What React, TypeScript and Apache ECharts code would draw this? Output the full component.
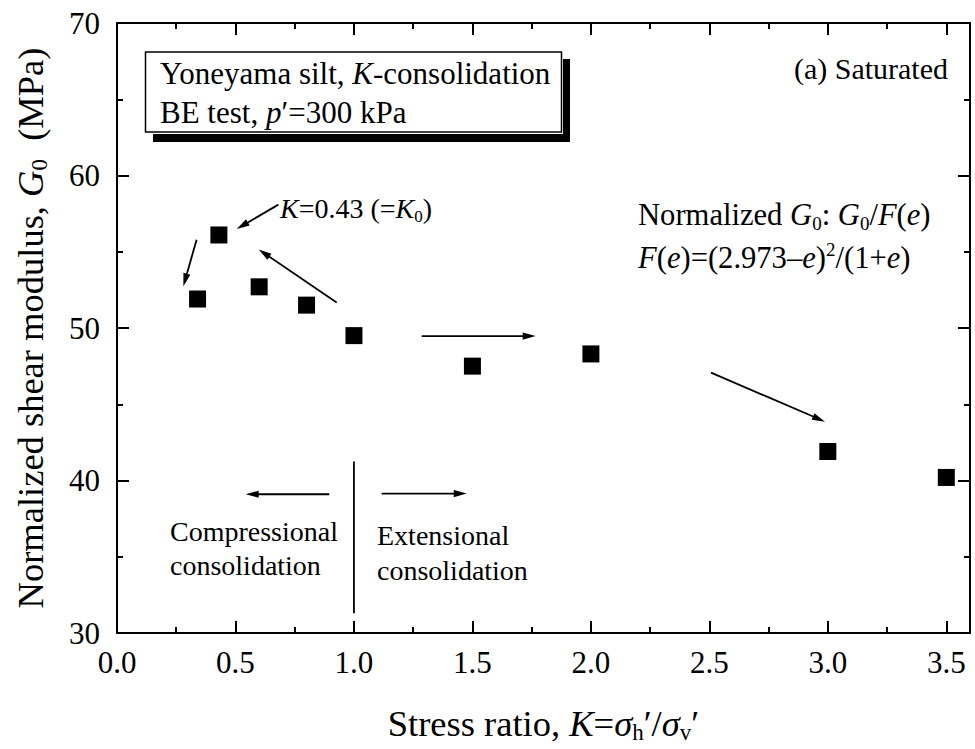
import React, { useEffect, useRef } from "react";
import * as echarts from "echarts";

const FONT = "Liberation Serif, Times New Roman, serif";

// Stress ratio K and normalized G0 (MPa)
const stressRatio = [0.34, 0.43, 0.6, 0.8, 1.0, 1.5, 2.0, 3.0, 3.5];
const normalizedG0 = [51.9, 56.1, 52.7, 51.5, 49.5, 47.5, 48.3, 41.9, 40.2];

// Axis ranges and tick positions
const X_MIN = 0;
const X_MAX = 3.6;
const xMajorTicks = [0, 0.5, 1.0, 1.5, 2.0, 2.5, 3.0, 3.5];
const xMinorTicks = [0.25, 0.75, 1.25, 1.75, 2.25, 2.75, 3.25];
const Y_MIN = 30;
const Y_MAX = 70;
const Y_STEP = 10;

// Annotation segments in data units: [x1, y1, x2, y2, arrowhead (1) or plain (0)]
const annotationSegments = [
  [0.681, 58.09, 0.505, 56.49, 1],
  [0.336, 55.79, 0.28, 52.74, 1],
  [0.927, 51.67, 0.598, 55.15, 1],
  [1.286, 49.47, 1.767, 49.47, 1],
  [2.507, 47.07, 2.988, 43.86, 1],
  [0.896, 39.1, 0.543, 39.1, 1],
  [1.117, 39.14, 1.476, 39.14, 1],
  [1.0, 41.24, 1.0, 31.29, 0],
];

const points = stressRatio.map((k, i) => [k, normalizedG0[i]]);

const richBase = (size: number, lh: number) => ({
  n: { fontSize: size, fontFamily: FONT, lineHeight: lh, color: "#000" },
  i: { fontStyle: "italic", fontSize: size, fontFamily: FONT, lineHeight: lh, color: "#000" },
  sub: {
    fontSize: Math.round(size * 0.62),
    fontFamily: FONT,
    lineHeight: Math.round(size * 0.62),
    padding: [Math.round(size * 0.52), 0, 0, 0],
    color: "#000",
  },
  sup: {
    fontSize: Math.round(size * 0.62),
    fontFamily: FONT,
    lineHeight: Math.round(size * 0.62),
    padding: [0, 0, Math.round(size * 0.56), 0],
    color: "#000",
  },
});

function label(x: number, y: number, text: string, size: number, align = "left") {
  const lh = Math.round(size * 1.25);
  return {
    type: "text",
    x,
    y,
    z: 10,
    style: {
      text,
      fontSize: size,
      fontFamily: FONT,
      fill: "#000",
      align,
      verticalAlign: "middle",
      lineHeight: lh,
      rich: richBase(size, lh),
    },
  };
}

export default function App() {
  const ref = useRef<HTMLDivElement>(null);

  useEffect(() => {
    document.body.style.margin = "0";
    if (!ref.current) return;
    const chart = echarts.init(ref.current, null, { renderer: "svg" });

    const axisLine = { show: true, onZero: false, lineStyle: { color: "#000", width: 2 } };
    const tickStyle = { color: "#000", width: 2 };

    const xBase = {
      type: "value",
      min: X_MIN,
      max: X_MAX,
      splitLine: { show: false },
      axisLine,
    };
    const yBase = {
      type: "value",
      min: Y_MIN,
      max: Y_MAX,
      interval: Y_STEP,
      splitLine: { show: false },
      axisLine,
      axisTick: { inside: true, length: 12, lineStyle: tickStyle },
      minorTick: { show: true, splitNumber: 2, length: 6, lineStyle: tickStyle },
    };

    chart.setOption({
      animation: false,
      backgroundColor: "#fff",
      textStyle: { fontFamily: FONT },
      grid: { left: 117, right: 5, top: 23, bottom: 115, containLabel: false },
      xAxis: [
        {
          ...xBase,
          position: "bottom",
          axisTick: { inside: true, length: 12, lineStyle: tickStyle, customValues: xMajorTicks },
          axisLabel: {
            customValues: xMajorTicks,
            formatter: (v: number) => v.toFixed(1),
            fontFamily: FONT,
            fontSize: 31,
            color: "#000",
            margin: 14,
          },
          name: "{n|Stress ratio, }{i|K}{n|=}{i|σ}{sub|h}{n|′/}{i|σ}{sub|v}{n|′}",
          nameLocation: "middle",
          nameGap: 69,
          nameTextStyle: {
            fontFamily: FONT,
            fontSize: 36.5,
            color: "#000",
            lineHeight: 42,
            rich: richBase(36.5, 42),
          },
        },
        {
          ...xBase,
          position: "bottom",
          axisLine: { show: false },
          axisTick: { inside: true, length: 6, lineStyle: tickStyle, customValues: xMinorTicks },
          axisLabel: { show: false },
        },
        {
          ...xBase,
          position: "top",
          axisTick: { inside: true, length: 12, lineStyle: tickStyle, customValues: xMajorTicks },
          axisLabel: { show: false },
        },
        {
          ...xBase,
          position: "top",
          axisLine: { show: false },
          axisTick: { inside: true, length: 6, lineStyle: tickStyle, customValues: xMinorTicks },
          axisLabel: { show: false },
        },
      ],
      yAxis: [
        {
          ...yBase,
          position: "left",
          axisLabel: { fontFamily: FONT, fontSize: 31, color: "#000", margin: 17 },
          name: "{n|Normalized shear modulus, }{i|G}{sub|0}{n|  (MPa)}",
          nameLocation: "middle",
          nameGap: 66,
          nameRotate: 90,
          nameTextStyle: {
            fontFamily: FONT,
            fontSize: 36.5,
            color: "#000",
            lineHeight: 42,
            rich: richBase(36.5, 42),
          },
        },
        {
          ...yBase,
          position: "right",
          axisLabel: { show: false },
        },
      ],
      series: [
        {
          type: "scatter",
          xAxisIndex: 0,
          yAxisIndex: 0,
          symbol: "rect",
          symbolSize: 17,
          itemStyle: { color: "#000", opacity: 1 },
          data: points,
          z: 5,
        },
        {
          type: "custom",
          xAxisIndex: 0,
          yAxisIndex: 0,
          clip: false,
          encode: { x: [0, 2], y: [1, 3] },
          data: annotationSegments,
          renderItem: (_params: any, api: any) => {
            const a = api.coord([api.value(0), api.value(1)]);
            const b = api.coord([api.value(2), api.value(3)]);
            const head = api.value(4) > 0;
            const dx = b[0] - a[0];
            const dy = b[1] - a[1];
            const len = Math.hypot(dx, dy) || 1;
            const ux = dx / len;
            const uy = dy / len;
            const nx = -uy;
            const ny = ux;
            const HL = 13;
            const HW = 3.6;
            const end = head ? [b[0] - ux * HL * 0.7, b[1] - uy * HL * 0.7] : b;
            const children: any[] = [
              {
                type: "line",
                shape: { x1: a[0], y1: a[1], x2: end[0], y2: end[1] },
                style: { stroke: "#000", lineWidth: 1.8 },
              },
            ];
            if (head) {
              children.push({
                type: "polygon",
                shape: {
                  points: [
                    [b[0], b[1]],
                    [b[0] - ux * HL + nx * HW, b[1] - uy * HL + ny * HW],
                    [b[0] - ux * HL - nx * HW, b[1] - uy * HL - ny * HW],
                  ],
                },
                style: { fill: "#000" },
              });
            }
            return { type: "group", children };
          },
          z: 4,
        },
      ],
      graphic: [
        // title box with drop shadow
        { type: "rect", z: 8, shape: { x: 153, y: 59, width: 417, height: 83 }, style: { fill: "#000" } },
        { type: "rect", z: 8, shape: { x: 143, y: 50, width: 420, height: 84 }, style: { fill: "#fff" } },
        {
          type: "rect",
          z: 9,
          shape: { x: 145.5, y: 52, width: 416, height: 80 },
          style: { fill: "#fff", stroke: "#000", lineWidth: 1.5 },
        },
        label(160, 73, "{n|Yoneyama silt, }{i|K}{n|-consolidation}", 31),
        label(160, 112, "{n|BE test, }{i|p}{n|′=300 kPa}", 31),
        label(948, 68, "{n|(a) Saturated}", 30, "right"),
        label(280, 208.5, "{i|K}{n|=0.43 (=}{i|K}{sub|0}{n|)}", 28),
        label(638, 215, "{n|Normalized }{i|G}{sub|0}{n|: }{i|G}{sub|0}{n|/}{i|F}{n|(}{i|e}{n|)}", 30.6),
        label(638, 258, "{i|F}{n|(}{i|e}{n|)=(2.973–}{i|e}{n|)}{sup|2}{n|/(1+}{i|e}{n|)}", 30.6),
        label(170, 531.5, "{n|Compressional}", 28),
        label(170, 565.5, "{n|consolidation}", 28),
        label(377, 535.5, "{n|Extensional}", 28),
        label(377, 570.5, "{n|consolidation}", 28),
      ],
    });

    return () => chart.dispose();
  }, []);

  return <div ref={ref} style={{ width: 975, height: 749 }} />;
}
